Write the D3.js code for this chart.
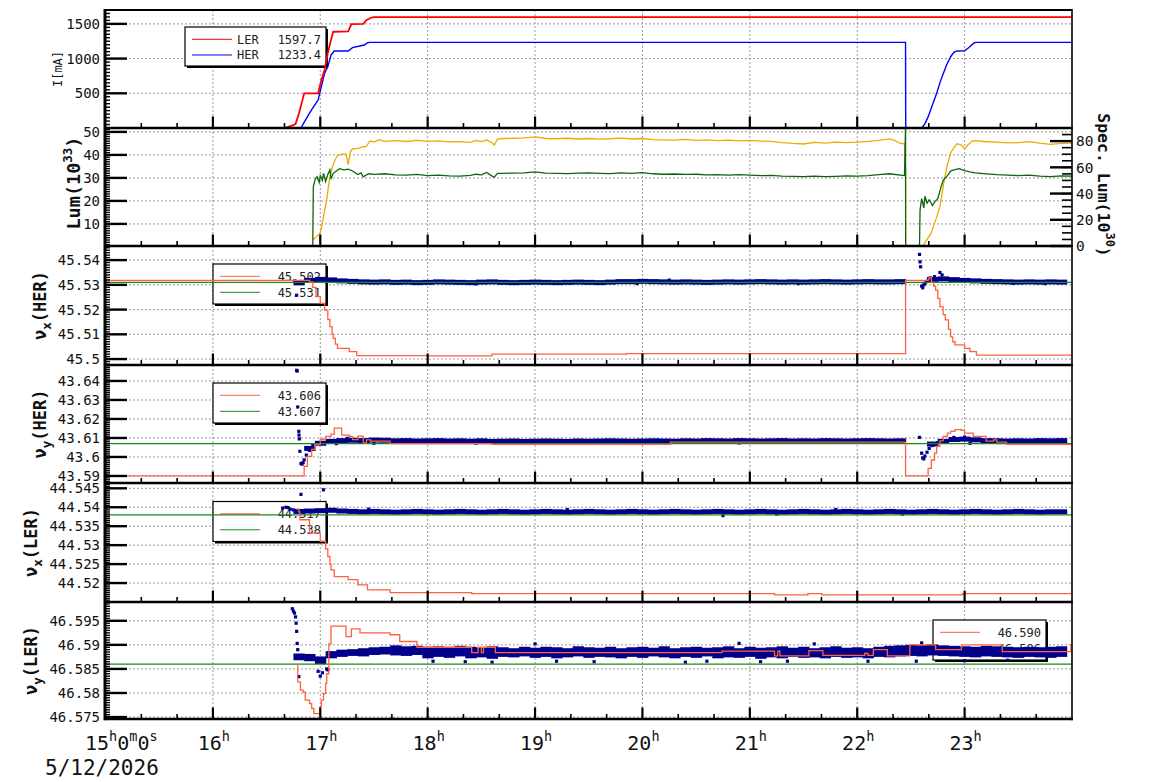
<!DOCTYPE html>
<html><head><meta charset="utf-8">
<script src="https://cdn.jsdelivr.net/npm/d3@7"></script>
<style>body{margin:0;background:#fff}svg{display:block}</style>
</head><body>
<svg id="c" width="1154" height="782"></svg>
<script>
// ---------------- DATA ----------------
const hourTicks = [16,17,18,19,20,21,22,23];
const firstTick = ["15","h","0","m","0","s"];
const dateLabel = "5/12/2026";

// Panel 1: beam currents [mA]
const iTickLabels = ["500","1000","1500"];
const lerCurrent = [[15,0],[16.66,0],[16.7,15],[16.75,40],[16.77,60],[16.8,200],[16.83,380],[16.85,500],[16.98,500],[17.01,690],[17.04,835],[17.07,1080],[17.1,1270],[17.12,1387],[17.26,1392],[17.29,1498],[17.4,1500],[17.43,1556],[17.48,1592],[17.5,1597.7],[24,1597.7]];
const herCurrent = [[15,0],[16.82,0],[16.86,110],[16.9,215],[16.94,310],[16.98,403],[17.01,595],[17.04,788],[17.07,883],[17.1,1052],[17.13,1110],[17.26,1110],[17.3,1157],[17.41,1196],[17.44,1229],[17.46,1233.4],[22.45,1233.4],[22.451,330],[22.452,0],[22.6,0],[22.63,60],[22.66,160],[22.7,330],[22.74,500],[22.77,650],[22.79,740],[22.83,900],[22.87,1027],[22.9,1090],[22.93,1110],[23.0,1112],[23.04,1160],[23.08,1215],[23.1,1233.4],[24,1233.4]];
const legendI = [["LER","1597.7"],["HER","1233.4"]];

// Panel 2: luminosity (left, 10^33) and specific luminosity (right, 10^30)
const lumTickLabels = ["10","20","30","40","50"];
const specTickLabels = ["0","20","40","60","80"];
const lum = [[16.93,0],[16.935,26],[16.95,29],[16.97,30.5],[16.99,28],[17.0,31],[17.02,29],[17.03,32],[17.05,28.5],[17.07,31.5],[17.09,33.5],[17.1,29.5],[17.12,32],[17.15,33],[17.18,34],[17.22,33.5],[17.26,33.8],[17.3,33],[17.35,31.5],[17.38,32.2],[17.4,30.5],[17.45,31.8],[17.5,31.5],[17.6,31.8],[17.7,31.3],[17.8,31.2],[17.9,31.5],[18.0,31.0],[18.1,31.2],[18.2,30.9],[18.3,30.8],[18.4,31.1],[18.45,31.6],[18.5,31.3],[18.55,32.4],[18.6,30.8],[18.62,30.3],[18.65,32.0],[18.7,32.0],[18.8,32.1],[18.9,32.2],[19.0,32.6],[19.1,32.1],[19.2,32.0],[19.3,31.9],[19.4,32.1],[19.5,32.2],[19.6,32.0],[19.7,31.9],[19.8,32.2],[19.9,32.0],[20.0,32.3],[20.1,31.8],[20.2,31.6],[20.3,31.7],[20.4,31.5],[20.5,31.6],[20.6,31.3],[20.7,31.4],[20.8,31.2],[20.9,31.4],[21.0,31.2],[21.1,31.0],[21.2,31.1],[21.3,30.8],[21.4,30.7],[21.5,30.6],[21.6,30.8],[21.7,30.6],[21.8,30.7],[21.9,30.9],[22.0,30.8],[22.1,31.0],[22.2,31.4],[22.3,31.8],[22.4,31.2],[22.44,31.0],[22.45,52],[22.451,0],[22.58,0],[22.585,16],[22.6,21],[22.62,17],[22.63,22],[22.65,19],[22.67,20.5],[22.7,18],[22.72,19.5],[22.75,21],[22.78,26],[22.8,29],[22.84,31],[22.87,33],[22.9,33.5],[22.95,34],[23.0,33.2],[23.05,32.6],[23.1,32.2],[23.2,31.8],[23.3,31.4],[23.4,31.2],[23.5,31.0],[23.6,31.2],[23.7,30.8],[23.8,30.6],[23.9,30.9],[24.0,30.8]];
const specLum = [[16.93,4.6],[16.95,6],[16.98,8.5],[17.0,10],[17.02,18],[17.04,27],[17.06,35],[17.08,48],[17.1,56],[17.12,62],[17.14,66],[17.16,69],[17.2,70],[17.24,70],[17.26,62],[17.28,72],[17.3,74],[17.35,74.5],[17.4,75.6],[17.43,76],[17.46,80],[17.5,79.5],[17.55,81],[17.6,79.8],[17.7,80.3],[17.8,79.7],[17.9,80.6],[18.0,79.8],[18.1,80.2],[18.2,79.4],[18.3,79.6],[18.4,79.0],[18.45,80.5],[18.5,79.6],[18.55,80.8],[18.6,78.8],[18.62,77],[18.65,81.5],[18.7,82.0],[18.8,82.2],[18.9,82.5],[19.0,83.2],[19.1,82.0],[19.2,81.8],[19.3,82.2],[19.4,81.6],[19.5,82.0],[19.6,81.5],[19.7,81.8],[19.8,82.3],[19.9,81.6],[20.0,82.0],[20.1,81.2],[20.2,81.0],[20.3,80.8],[20.4,81.3],[20.5,80.6],[20.6,80.9],[20.7,80.4],[20.8,80.8],[20.9,80.2],[21.0,80.5],[21.1,80.0],[21.2,79.8],[21.3,78.9],[21.4,78.2],[21.5,77.8],[21.6,79.0],[21.7,78.5],[21.8,79.2],[21.9,78.8],[22.0,79.2],[22.1,79.8],[22.2,80.6],[22.3,81.7],[22.35,80.5],[22.4,78.2],[22.44,78],[22.45,57],[22.451,0],[22.61,0],[22.65,5],[22.69,10],[22.71,15],[22.74,22],[22.77,30],[22.79,40],[22.81,50],[22.84,62],[22.87,71],[22.9,75],[22.93,78],[22.97,77],[23.0,74],[23.03,77],[23.07,80],[23.1,80.4],[23.2,79.5],[23.3,79.2],[23.4,78.6],[23.5,78.9],[23.6,79.6],[23.7,78.4],[23.8,77.5],[23.9,78.2],[24.0,78.5]];

// Panel 3: nu_x(HER)
const nuxHerTickLabels = ["45.5","45.51","45.52","45.53","45.54"];
const nuxHerRef = 45.531;
const nuxHerSet = [[15,45.5318],[16.9,45.5312],[16.93,45.5290],[16.96,45.5252],[17.0,45.5225],[17.04,45.5198],[17.07,45.5160],[17.09,45.5131],[17.11,45.5100],[17.12,45.5084],[17.14,45.5060],[17.16,45.5043],[17.27,45.5030],[17.34,45.5014],[18.0,45.5013],[18.6,45.5020],[19.85,45.5022],[22.45,45.5318],[22.66,45.5322],[22.67,45.5330],[22.69,45.5310],[22.71,45.5295],[22.73,45.5279],[22.75,45.5245],[22.77,45.5211],[22.8,45.5180],[22.82,45.5158],[22.85,45.5120],[22.87,45.5090],[22.89,45.5070],[22.91,45.5057],[23.0,45.5043],[23.05,45.5030],[23.11,45.5016],[24,45.5016]];
const nuxHerBand = [[16.8,45.5308],[16.9,45.5318],[17.0,45.5322],[17.1,45.5320],[17.2,45.5316],[17.3,45.5314],[17.4,45.5312],[17.5,45.5311],[17.6,45.5312],[17.7,45.5310],[17.8,45.5311],[17.9,45.5309],[18.0,45.5310],[18.1,45.5312],[18.2,45.5311],[18.3,45.5310],[18.4,45.5309],[18.5,45.5311],[18.6,45.5312],[18.7,45.5310],[18.8,45.5309],[18.9,45.5310],[19.0,45.5311],[19.1,45.5310],[19.2,45.5309],[19.3,45.5310],[19.4,45.5311],[19.5,45.5310],[19.6,45.5309],[19.7,45.5311],[19.8,45.5313],[19.9,45.5313],[20.0,45.5314],[20.1,45.5313],[20.2,45.5312],[20.3,45.5311],[20.4,45.5312],[20.5,45.5311],[20.6,45.5310],[20.7,45.5311],[20.8,45.5312],[20.9,45.5311],[21.0,45.5312],[21.1,45.5313],[21.2,45.5312],[21.3,45.5311],[21.4,45.5312],[21.5,45.5311],[21.6,45.5312],[21.7,45.5313],[21.8,45.5312],[21.9,45.5311],[22.0,45.5312],[22.1,45.5313],[22.2,45.5312],[22.3,45.5312],[22.4,45.5313],[22.7,45.5322],[22.8,45.5324],[22.9,45.5321],[23.0,45.5318],[23.1,45.5316],[23.2,45.5314],[23.3,45.5313],[23.4,45.5312],[23.5,45.5311],[23.6,45.5312],[23.7,45.5311],[23.8,45.5312],[23.9,45.5311]];
const nuxHerDots = [[16.76,45.5315],[16.78,45.5258],[18.45,45.5304],[19.95,45.5305],[20.25,45.5319],[21.45,45.5305],[23.45,45.5306],[23.75,45.5305],[22.58,45.5423],[22.585,45.5393],[22.59,45.5373],[22.6,45.5295],[22.61,45.5288],[22.62,45.5300],[22.63,45.5305],[22.64,45.5312],[22.66,45.5318],[22.68,45.5328],[22.72,45.5333],[22.77,45.5350],[22.79,45.5340]];
const legendNuxHer = [["","45.502"],["","45.531"]];

// Panel 4: nu_y(HER)
const nuyHerTickLabels = ["43.59","43.6","43.61","43.62","43.63","43.64"];
const nuyHerRef = 43.607;
const nuyHerSet = [[15,43.5900],[16.85,43.5950],[16.88,43.6003],[16.92,43.6040],[16.95,43.6065],[17.0,43.6091],[17.03,43.6095],[17.05,43.6108],[17.1,43.6120],[17.13,43.6152],[17.2,43.6115],[17.27,43.6108],[17.3,43.6091],[17.35,43.6110],[17.4,43.6074],[17.43,43.6090],[17.47,43.6083],[17.65,43.6070],[18.6,43.6066],[20.26,43.6078],[22.45,43.5900],[22.66,43.5940],[22.69,43.5984],[22.72,43.6020],[22.74,43.6056],[22.77,43.6085],[22.8,43.6108],[22.84,43.6125],[22.87,43.6135],[22.91,43.6144],[22.97,43.6140],[23.0,43.6126],[23.08,43.6108],[23.2,43.6083],[23.27,43.6090],[23.3,43.6078],[23.39,43.6066],[24,43.6066]];
const nuyHerBand = [[16.9,43.6045],[17.0,43.6072],[17.1,43.6082],[17.2,43.6086],[17.3,43.6088],[17.4,43.6086],[17.5,43.6089],[17.6,43.6088],[17.7,43.6085],[17.8,43.6086],[17.9,43.6084],[18.0,43.6085],[18.1,43.6086],[18.2,43.6084],[18.3,43.6085],[18.4,43.6083],[18.5,43.6085],[18.6,43.6082],[18.7,43.6083],[18.8,43.6084],[18.9,43.6082],[19.0,43.6083],[19.1,43.6084],[19.2,43.6083],[19.3,43.6082],[19.4,43.6084],[19.5,43.6083],[19.6,43.6084],[19.7,43.6085],[19.8,43.6084],[19.9,43.6083],[20.0,43.6084],[20.1,43.6085],[20.2,43.6084],[20.3,43.6083],[20.4,43.6085],[20.5,43.6084],[20.6,43.6086],[20.7,43.6085],[20.8,43.6084],[20.9,43.6086],[21.0,43.6085],[21.1,43.6084],[21.2,43.6085],[21.3,43.6086],[21.4,43.6084],[21.5,43.6085],[21.6,43.6084],[21.7,43.6086],[21.8,43.6085],[21.9,43.6084],[22.0,43.6085],[22.1,43.6086],[22.2,43.6085],[22.3,43.6084],[22.4,43.6085],[22.7,43.6068],[22.8,43.6082],[22.9,43.6092],[23.0,43.6094],[23.1,43.6090],[23.2,43.6086],[23.3,43.6085],[23.4,43.6084],[23.5,43.6085],[23.6,43.6084],[23.7,43.6086],[23.8,43.6085],[23.9,43.6086]];
const nuyHerDots = [[16.78,43.6456],[16.785,43.6452],[16.79,43.6263],[16.8,43.6135],[16.802,43.6115],[16.805,43.6095],[16.81,43.6030],[16.82,43.5966],[16.83,43.5962],[16.84,43.5970],[16.85,43.5985],[16.87,43.6010],[16.9,43.6035],[16.93,43.6060],[17.15,43.6070],[17.25,43.6098],[17.5,43.6072],[18.45,43.6073],[20.9,43.6074],[22.58,43.6103],[22.6,43.6020],[22.61,43.5995],[22.62,43.5990],[22.63,43.6005],[22.65,43.6025],[22.67,43.6045],[22.7,43.6060],[22.75,43.6075],[22.9,43.6103],[23.0,43.6105],[23.05,43.6072]];
const legendNuyHer = [["","43.606"],["","43.607"]];

// Panel 5: nu_x(LER)
const nuxLerTickLabels = ["44.52","44.525","44.53","44.535","44.54","44.545"];
const nuxLerRef = 44.538;
const nuxLerSet = [[16.78,44.5395],[16.8,44.5388],[16.81,44.5367],[16.9,44.5332],[17.0,44.5310],[17.05,44.5290],[17.07,44.5270],[17.09,44.5250],[17.1,44.5235],[17.13,44.5217],[17.26,44.5209],[17.35,44.5195],[17.44,44.5182],[17.65,44.5175],[18.41,44.5172],[21.23,44.5169],[21.54,44.5172],[21.67,44.5169],[22.98,44.5172],[24,44.5172]];
const nuxLerBand = [[16.8,44.5389],[16.9,44.5390],[17.0,44.5391],[17.1,44.5392],[17.2,44.5390],[17.3,44.5389],[17.4,44.5388],[17.5,44.5389],[17.6,44.5388],[17.7,44.5387],[17.8,44.5388],[17.9,44.5389],[18.0,44.5388],[18.1,44.5387],[18.2,44.5388],[18.3,44.5389],[18.4,44.5388],[18.5,44.5387],[18.6,44.5388],[18.7,44.5389],[18.8,44.5388],[18.9,44.5387],[19.0,44.5388],[19.1,44.5389],[19.2,44.5388],[19.3,44.5387],[19.4,44.5388],[19.5,44.5389],[19.6,44.5388],[19.7,44.5387],[19.8,44.5388],[19.9,44.5389],[20.0,44.5388],[20.1,44.5387],[20.2,44.5388],[20.3,44.5389],[20.4,44.5388],[20.5,44.5387],[20.6,44.5388],[20.7,44.5389],[20.8,44.5388],[20.9,44.5387],[21.0,44.5388],[21.1,44.5389],[21.2,44.5388],[21.3,44.5387],[21.4,44.5388],[21.5,44.5389],[21.6,44.5388],[21.7,44.5387],[21.8,44.5388],[21.9,44.5389],[22.0,44.5388],[22.1,44.5387],[22.2,44.5388],[22.3,44.5389],[22.4,44.5388],[22.5,44.5387],[22.6,44.5388],[22.7,44.5389],[22.8,44.5388],[22.9,44.5387],[23.0,44.5388],[23.1,44.5389],[23.2,44.5388],[23.3,44.5387],[23.4,44.5388],[23.5,44.5389],[23.6,44.5388],[23.7,44.5387],[23.8,44.5388],[23.9,44.5388]];
const nuxLerDots = [[16.65,44.5398],[16.68,44.5400],[16.7,44.5399],[16.72,44.5395],[16.75,44.5393],[16.82,44.5434],[17.03,44.5446],[20.75,44.5378],[21.25,44.5382],[22.42,44.5382],[17.45,44.5395],[19.3,44.5394],[21.8,44.5394]];
const legendNuxLer = [["","44.517"],["","44.538"]];

// Panel 6: nu_y(LER)
const nuyLerTickLabels = ["46.575","46.58","46.585","46.59","46.595"];
const nuyLerRef = 46.586;
const nuyLerSet = [[16.78,46.5860],[16.79,46.5823],[16.815,46.5806],[16.84,46.5802],[16.86,46.5785],[16.9,46.5778],[16.92,46.5768],[16.94,46.5757],[17.0,46.5772],[17.01,46.5785],[17.03,46.5799],[17.05,46.5820],[17.06,46.5840],[17.08,46.5902],[17.1,46.5939],[17.24,46.5917],[17.29,46.5933],[17.37,46.5925],[17.65,46.5921],[17.74,46.5907],[17.9,46.5895],[18.41,46.5884],[18.47,46.5895],[18.5,46.5884],[18.52,46.5895],[18.63,46.5884],[20.74,46.5887],[21.23,46.5877],[21.26,46.5887],[21.28,46.5877],[21.55,46.5888],[21.68,46.5878],[22.07,46.5882],[22.1,46.5878],[22.15,46.5890],[22.28,46.5877],[22.49,46.5900],[22.73,46.5890],[22.97,46.5900],[23.35,46.5886],[23.99,46.5900],[24,46.5900]];
const nuyLerBand = [[16.8,46.5868,46.5882],[16.9,46.5866,46.5881],[17.0,46.5860,46.5876],[17.1,46.5872,46.5887],[17.2,46.5875,46.5890],[17.3,46.5877,46.5891],[17.4,46.5876,46.5893],[17.5,46.5879,46.5895],[17.6,46.5880,46.5896],[17.7,46.5878,46.5899],[17.8,46.5877,46.5897],[17.9,46.5879,46.5898],[18.0,46.5872,46.5896],[18.1,46.5875,46.5897],[18.2,46.5873,46.5895],[18.3,46.5876,46.5898],[18.4,46.5872,46.5896],[18.5,46.5874,46.5894],[18.6,46.5871,46.5897],[18.7,46.5875,46.5895],[18.8,46.5874,46.5893],[18.9,46.5876,46.5896],[19.0,46.5873,46.5894],[19.1,46.5875,46.5896],[19.2,46.5872,46.5895],[19.3,46.5874,46.5893],[19.4,46.5876,46.5897],[19.5,46.5873,46.5895],[19.6,46.5875,46.5894],[19.7,46.5874,46.5896],[19.8,46.5872,46.5893],[19.9,46.5875,46.5895],[20.0,46.5873,46.5896],[20.1,46.5876,46.5894],[20.2,46.5874,46.5897],[20.3,46.5872,46.5893],[20.4,46.5875,46.5895],[20.5,46.5873,46.5896],[20.6,46.5876,46.5894],[20.7,46.5872,46.5895],[20.8,46.5874,46.5897],[20.9,46.5873,46.5893],[21.0,46.5875,46.5896],[21.1,46.5871,46.5894],[21.2,46.5874,46.5895],[21.3,46.5872,46.5897],[21.4,46.5875,46.5894],[21.5,46.5873,46.5896],[21.6,46.5874,46.5893],[21.7,46.5872,46.5895],[21.8,46.5875,46.5897],[21.9,46.5873,46.5894],[22.0,46.5874,46.5895],[22.1,46.5872,46.5893],[22.2,46.5875,46.5896],[22.3,46.5874,46.5898],[22.4,46.5876,46.5899],[22.5,46.5877,46.5900],[22.6,46.5876,46.5899],[22.7,46.5878,46.5901],[22.8,46.5877,46.5899],[22.9,46.5876,46.5898],[23.0,46.5875,46.5897],[23.1,46.5874,46.5896],[23.2,46.5876,46.5898],[23.3,46.5875,46.5897],[23.4,46.5874,46.5896],[23.5,46.5873,46.5895],[23.6,46.5875,46.5896],[23.7,46.5874,46.5895],[23.8,46.5873,46.5896],[23.9,46.5875,46.5897]];
const nuyLerDots = [[16.74,46.5975],[16.75,46.5970],[16.76,46.5966],[16.77,46.5958],[16.775,46.5945],[16.78,46.5928],[16.785,46.5903],[16.79,46.5890],[16.8,46.5834],[16.98,46.5845],[17.0,46.5835],[17.02,46.5842],[17.06,46.5850],[17.07,46.5848],[18.05,46.5866],[18.35,46.5865],[18.6,46.5864],[19.2,46.5866],[19.55,46.5865],[20.4,46.5864],[20.6,46.5866],[21.1,46.5865],[21.35,46.5866],[22.1,46.5866],[22.55,46.5866],[23.0,46.5867],[23.4,46.5868],[19.0,46.5902],[20.9,46.5903],[22.6,46.5904],[21.6,46.5902]];
const legendNuyLer = [["","46.590"],["","46.586"]];

// ---------------- DRAWING ----------------
const svg = d3.select("#c");
const MONO = "'DejaVu Sans Mono', monospace";
const L = 105, R = 1072;
const x = d3.scaleLinear().domain([15, 24]).range([L + 0.5, R]);
const C = { ler:"#ff0000", her:"#0000ff", lumG:"#0b660b", lumO:"#efaa00", set:"#ff6040", ref:"#1c8a1c", dot:"#00008b", grid:"#999" };

const nums = a => a.map(s => +s);
const panels = [
  { top:10,  bottom:128, dom:[0,1700],            labels:iTickLabels,      minor:50 },
  { top:128, bottom:246, dom:[0.4,51.7],          labels:lumTickLabels,    minor:1 },
  { top:246, bottom:365, dom:[45.4976,45.5457],   labels:nuxHerTickLabels, minor:0.001 },
  { top:365, bottom:483, dom:[43.5863,43.6484],   labels:nuyHerTickLabels, minor:0.001 },
  { top:483, bottom:602, dom:[44.515,44.5464],    labels:nuxLerTickLabels, minor:0.0005 },
  { top:602, bottom:719, dom:[46.5746,46.5989],   labels:nuyLerTickLabels, minor:0.0005 }
];
panels.forEach((p, i) => {
  p.y = d3.scaleLinear().domain(p.dom).range([p.bottom, p.top]);
  p.ticks = nums(p.labels);
  p.g = svg.append("g");
  svg.append("clipPath").attr("id", "clip" + i).append("rect")
    .attr("x", L).attr("y", p.top).attr("width", R - L).attr("height", p.bottom - p.top);
});
const ySpec = d3.scaleLinear().domain([0, 90]).range([246, 128]);

// grids
panels.forEach(p => {
  const g = p.g;
  g.selectAll(null).data(hourTicks).join("line")
    .attr("x1", d => x(d)).attr("x2", d => x(d)).attr("y1", p.top).attr("y2", p.bottom)
    .attr("stroke", C.grid).attr("stroke-width", 1).attr("stroke-dasharray", "2,2");
  g.selectAll(null).data(p.ticks).join("line")
    .attr("x1", L).attr("x2", R).attr("y1", d => p.y(d)).attr("y2", d => p.y(d))
    .attr("stroke", C.grid).attr("stroke-width", 1).attr("stroke-dasharray", "2,2");
});

// legends
function legendBox(g, bx, by, w, h, entries, colors, nameX, valX, gap) {
  g.append("rect").attr("x", bx + 2).attr("y", by + 2).attr("width", w).attr("height", h).attr("fill", "#000");
  g.append("rect").attr("x", bx).attr("y", by).attr("width", w).attr("height", h)
    .attr("fill", "#fff").attr("stroke", "#000").attr("stroke-width", 1.2);
  entries.forEach((e, i) => {
    const ly = by + 12.3 + i * gap;
    g.append("line").attr("x1", bx + 7).attr("x2", bx + 47).attr("y1", ly).attr("y2", ly)
      .attr("stroke", colors[i]).attr("stroke-width", 1);
    if (e[0]) g.append("text").attr("x", bx + nameX).attr("y", ly + 4.3).attr("font-family", MONO)
      .attr("font-size", 12).attr("fill", "#222").text(e[0]);
    g.append("text").attr("x", bx + valX).attr("y", ly + 4.3).attr("text-anchor", "end")
      .attr("font-family", MONO).attr("font-size", 12).attr("fill", "#222").text(e[1]);
  });
}
legendBox(panels[0].g, 185, 27, 141, 39, legendI, [C.ler, C.her], 52, 136, 15.7);
legendBox(panels[2].g, 213, 264, 113, 40, legendNuxHer, [C.set, C.ref], 52, 108, 16);
legendBox(panels[3].g, 213, 383, 113, 40, legendNuyHer, [C.set, C.ref], 52, 108, 16);
legendBox(panels[4].g, 213, 501.5, 113, 40, legendNuxLer, [C.set, C.ref], 52, 108, 16);
legendBox(panels[5].g, 933, 620, 113, 40, legendNuyLer, [C.set, C.ref], 52, 108, 16);

// data helpers
function lineOf(i, data, yS, color, w, curve) {
  panels[i].g.append("path").attr("clip-path", `url(#clip${i})`)
    .attr("d", d3.line().x(d => x(d[0])).y(d => yS(d[1])).curve(curve || d3.curveLinear)(data))
    .attr("fill", "none").attr("stroke", color).attr("stroke-width", w).attr("stroke-linejoin", "miter");
}
function bandOf(i, data, h) {
  const y = panels[i].y;
  panels[i].g.append("g").attr("clip-path", `url(#clip${i})`).selectAll("rect").data(data).join("rect")
    .attr("x", d => x(d[0] - 0.05)).attr("width", d => x(d[0] + 0.05) - x(d[0] - 0.05) + 0.6)
    .attr("y", d => y(d[1]) - h / 2).attr("height", h).attr("fill", C.dot);
}
function rangeBandOf(i, data) {
  const y = panels[i].y;
  panels[i].g.append("g").attr("clip-path", `url(#clip${i})`).selectAll("rect").data(data).join("rect")
    .attr("x", d => x(d[0] - 0.05)).attr("width", d => x(d[0] + 0.05) - x(d[0] - 0.05) + 0.6)
    .attr("y", d => y(d[2])).attr("height", d => y(d[1]) - y(d[2])).attr("fill", C.dot);
}
function dotsOf(i, data) {
  const y = panels[i].y;
  panels[i].g.append("g").attr("clip-path", `url(#clip${i})`).selectAll("rect").data(data).join("rect")
    .attr("x", d => x(d[0]) - 1.6).attr("width", 3.2)
    .attr("y", d => y(d[1]) - 1.6).attr("height", 3.2).attr("fill", C.dot);
}
function refOf(i, v) {
  lineOf(i, [[15, v], [24, v]], panels[i].y, C.ref, 1.3);
}

// panel 1
lineOf(0, herCurrent, panels[0].y, C.her, 1.4);
lineOf(0, lerCurrent, panels[0].y, C.ler, 1.8);
// panel 2
lineOf(1, specLum, ySpec, C.lumO, 1.3);
lineOf(1, lum, panels[1].y, C.lumG, 1.3);
// panels 3-6
bandOf(2, nuxHerBand, 5); dotsOf(2, nuxHerDots); refOf(2, nuxHerRef); lineOf(2, nuxHerSet, panels[2].y, C.set, 1.3, d3.curveStepAfter);
bandOf(3, nuyHerBand, 5); dotsOf(3, nuyHerDots); refOf(3, nuyHerRef); lineOf(3, nuyHerSet, panels[3].y, C.set, 1.3, d3.curveStepAfter);
bandOf(4, nuxLerBand, 5); dotsOf(4, nuxLerDots); refOf(4, nuxLerRef); lineOf(4, nuxLerSet, panels[4].y, C.set, 1.3, d3.curveStepAfter);
rangeBandOf(5, nuyLerBand); dotsOf(5, nuyLerDots); refOf(5, nuyLerRef); lineOf(5, nuyLerSet, panels[5].y, C.set, 1.3, d3.curveStepAfter);

// ticks, labels, frames
const minorX = d3.range(15, 24.001, 1 / 3).filter(h => Math.abs(h - Math.round(h)) > 0.01);
panels.forEach((p, i) => {
  const g = svg.append("g");
  g.selectAll(null).data(hourTicks).join("line")
    .attr("x1", d => x(d)).attr("x2", d => x(d)).attr("y1", p.bottom).attr("y2", p.bottom - 11.5)
    .attr("stroke", "#000").attr("stroke-width", 2.2);
  g.selectAll(null).data(minorX).join("line")
    .attr("x1", d => x(d)).attr("x2", d => x(d)).attr("y1", p.bottom).attr("y2", p.bottom - 5)
    .attr("stroke", "#000").attr("stroke-width", 1.6);
  const mn = d3.range(Math.ceil(p.dom[0] / p.minor - 1e-6) * p.minor, p.dom[1], p.minor);
  g.selectAll(null).data(mn).join("line")
    .attr("x1", L).attr("x2", L + 5).attr("y1", d => p.y(d)).attr("y2", d => p.y(d))
    .attr("stroke", "#000").attr("stroke-width", 1.4);
  g.selectAll(null).data(p.ticks).join("line")
    .attr("x1", L).attr("x2", L + 22).attr("y1", d => p.y(d)).attr("y2", d => p.y(d))
    .attr("stroke", "#000").attr("stroke-width", 2.4);
  g.selectAll(null).data(p.labels).join("text")
    .attr("x", 100).attr("y", d => p.y(+d)).attr("dy", "0.36em").attr("text-anchor", "end")
    .attr("font-family", MONO).attr("font-size", 14).attr("fill", "#111").text(d => d);
  g.append("line").attr("x1", L).attr("x2", R + 0.8).attr("y1", p.bottom).attr("y2", p.bottom)
    .attr("stroke", "#000").attr("stroke-width", 2.6);
});
// right axis of panel 2
{
  const g = svg.append("g");
  const minorR = d3.range(0, 90, 5);
  g.selectAll(null).data(minorR).join("line")
    .attr("x1", R).attr("x2", R - 10).attr("y1", d => ySpec(d)).attr("y2", d => ySpec(d))
    .attr("stroke", "#000").attr("stroke-width", 1.6);
  g.selectAll(null).data(nums(specTickLabels)).join("line")
    .attr("x1", R).attr("x2", R - 22).attr("y1", d => ySpec(d)).attr("y2", d => ySpec(d))
    .attr("stroke", "#000").attr("stroke-width", 2.4);
  g.selectAll(null).data(specTickLabels).join("text")
    .attr("x", 1076).attr("y", d => ySpec(+d)).attr("dy", "0.36em")
    .attr("font-family", MONO).attr("font-size", 14.5).attr("fill", "#111").text(d => d);
}
// outer frame
svg.append("line").attr("x1", L).attr("x2", R).attr("y1", 10).attr("y2", 10).attr("stroke", "#000").attr("stroke-width", 2);
svg.append("line").attr("x1", L).attr("x2", L).attr("y1", 9).attr("y2", 720.3).attr("stroke", "#000").attr("stroke-width", 3);
svg.append("line").attr("x1", R).attr("x2", R).attr("y1", 9).attr("y2", 720.3).attr("stroke", "#000").attr("stroke-width", 1.6);

// axis titles
function rotTitle(cx, cy, rot, size, weight, parts) {
  const t = svg.append("text").attr("transform", `translate(${cx},${cy}) rotate(${rot})`)
    .attr("text-anchor", "middle").attr("font-family", MONO).attr("font-size", size)
    .attr("font-weight", weight).attr("fill", "#111");
  parts.forEach(pt => t.append("tspan").attr("dy", pt[1] || 0).attr("font-size", pt[2] || size).text(pt[0]));
}
rotTitle(62, 69, -90, 12, "normal", [["I[mA]"]]);
rotTitle(80, 183, -90, 18.5, "bold", [["Lum(10"], ["33", -8, 12.5], [")", 8]]);
rotTitle(46, 305.5, -90, 17, "bold", [["ν"], ["x", 5, 12.5], ["(HER)", -5]]);
rotTitle(46, 424, -90, 17, "bold", [["ν"], ["y", 5, 12.5], ["(HER)", -5]]);
rotTitle(37, 542.5, -90, 17, "bold", [["ν"], ["x", 5, 12.5], ["(LER)", -5]]);
rotTitle(37, 660.5, -90, 17, "bold", [["ν"], ["y", 5, 12.5], ["(LER)", -5]]);
rotTitle(1098, 185, 90, 16.5, "bold", [["Spec. Lum(10"], ["30", -8, 12], [")", 8]]);

// time axis labels
svg.append("g").selectAll("text").data(hourTicks).join("text")
  .attr("x", d => x(d) + 1).attr("y", 750).attr("text-anchor", "middle")
  .attr("font-family", MONO).attr("font-size", 20).attr("fill", "#111")
  .each(function(d) {
    const t = d3.select(this);
    t.append("tspan").text(String(d));
    t.append("tspan").attr("dy", -9).attr("font-size", 13.5).text("h");
  });
{
  const t = svg.append("text").attr("x", 85).attr("y", 750).attr("font-family", MONO)
    .attr("font-size", 20).attr("fill", "#111");
  firstTick.forEach((s, i) => {
    if (i % 2 === 0) t.append("tspan").attr("dy", i === 0 ? 0 : 9).text(s);
    else t.append("tspan").attr("dy", -9).attr("font-size", 13.5).text(s);
  });
  svg.append("text").attr("x", 45).attr("y", 775).attr("font-family", MONO)
    .attr("font-size", 21).attr("fill", "#111").text(dateLabel);
}
</script>
</body></html>
